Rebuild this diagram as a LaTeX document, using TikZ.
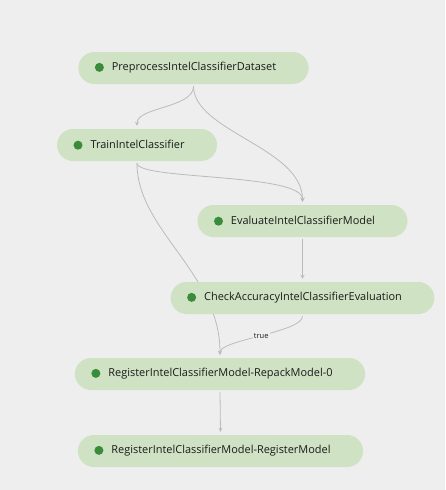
\documentclass[tikz,border=0pt]{standalone}
\usepackage{fontspec}
\setmainfont{Open Sans}
\usetikzlibrary{backgrounds}
\definecolor{bgcol}{HTML}{EEEEEE}
\definecolor{taskfill}{HTML}{CFE2C3}
\definecolor{dotgreen}{HTML}{3A8B3A}
\definecolor{edgecol}{HTML}{BBBBBB}
\definecolor{textcol}{HTML}{1A1A1A}
\newcommand{\taskdot}{\tikz[baseline=-3.5pt]\fill[dotgreen] (0,0) circle (4.5pt);\hspace{8pt}}
\newcommand{\taskpad}{\kern16pt}
\tikzset{
  task/.style={fill=taskfill, rounded corners=16pt, minimum height=32pt, inner xsep=16.5pt,
    text=textcol, font=\fontsize{10.95}{12}\selectfont},
  edge/.style={draw=edgecol, line width=0.8pt, ->, shorten >=1pt}
}

\begin{document}
\begin{tikzpicture}[x=1pt, y=-1pt, >=stealth]
  \useasboundingbox (0,0) rectangle (445,490);
  \node[task] (pre) at (193.5,68) {\taskdot PreprocessIntelClassifierDataset\taskpad};
  \node[task] (train) at (137,145) {\taskdot TrainIntelClassifier\taskpad};
  \node[task] (eval) at (302.5,221) {\taskdot EvaluateIntelClassifierModel\taskpad};
  \node[task] (check) at (302.5,298) {\taskdot CheckAccuracyIntelClassifierEvaluation\taskpad};
  \node[task] (repack) at (220,374) {\taskdot RegisterIntelClassifierModel-RepackModel-0\taskpad};
  \node[task] (register) at (220.5,451) {\taskdot RegisterIntelClassifierModel-RegisterModel\taskpad};
  \begin{pgfonlayer}{background}
    \fill[bgcol] (0,0) rectangle (445,490);
    \draw[edge] ([yshift=-2pt]pre.south) .. controls +(0,22) and +(0,-20) .. ([yshift=2pt]train.north);
    \draw[edge] ([yshift=-2pt]pre.south) .. controls +(0,45) and +(0,-55) .. ([yshift=2pt]eval.north);
    \draw[edge] ([yshift=-2pt]train.south) .. controls +(0,17) and +(0,-30) .. ([yshift=2pt]eval.north);
    \draw[edge] ([yshift=-2pt]train.south) .. controls +(0,67) and +(0,-83) .. ([yshift=2pt]repack.north);
    \draw[edge] ([yshift=-2pt]eval.south) -- ([yshift=2pt]check.north);
    \draw[edge] ([yshift=-2pt]check.south) .. controls +(0,16) and +(0,-16)
      .. node[fill=bgcol, inner sep=1pt, text=textcol, font=\fontsize{7.5}{8}\selectfont] (truelbl) {true} ([yshift=2pt]repack.north);
    \draw[edge] ([yshift=-2pt]repack.south) -- ([yshift=2pt]register.north);
  \end{pgfonlayer}
\end{tikzpicture}
\end{document}
